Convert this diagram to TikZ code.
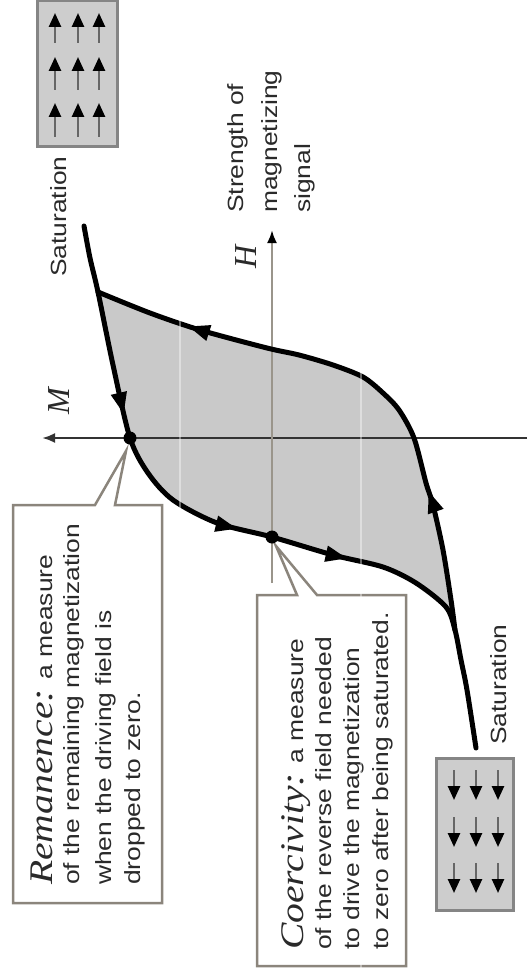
\documentclass[tikz,border=0pt]{standalone}
\usepackage{fontspec}
\setmainfont{Liberation Sans}
\newfontfamily\seriffam{Liberation Serif}
\usetikzlibrary{arrows.meta,decorations.markings}
\definecolor{loopgray}{HTML}{C9C9C9}
\definecolor{boxgray}{HTML}{CDCDCD}
\definecolor{boxedge}{HTML}{858585}
\definecolor{calledge}{HTML}{8B857C}
\definecolor{haxis}{HTML}{9A958B}
\definecolor{txtcol}{HTML}{2A2A2A}
\newcommand{\stre}[1]{\scalebox{1.2}[1]{#1}}
\newcommand{\bigit}[1]{{\seriffam\itshape\fontsize{33}{36}\selectfont #1}}
\begin{document}
\begin{tikzpicture}[x=1pt,y=-1pt,
  txt/.style={rotate=90, anchor=base west, inner sep=0pt, text=txtcol, font=\fontsize{22}{26}\selectfont},
  axlabel/.style={rotate=90, inner sep=0pt, text=txtcol, font=\seriffam\itshape\fontsize{32}{34}\selectfont},
  loopline/.style={line width=5pt, black, line join=round, line cap=round},
  callout/.style={fill=white, draw=calledge, line width=2.5pt, line join=miter},
  satbox/.style={fill=boxgray, draw=boxedge, line width=3pt},
  satarrow/.style={draw=black!60, line width=2.5pt, -{Triangle[length=14pt,width=12pt,fill=black,color=black]}},
  dot/.style={circle, fill=black, inner sep=0pt, minimum size=13pt}]
\useasboundingbox (0,0) rectangle (532,976);

% saturation boxes
\draw[satbox] (37,1) rectangle (117,147);
\foreach \cx in {55,78,99}{
  \foreach \yb/\yt in {43/13, 90/57, 137/103}{
    \draw[satarrow] (\cx,\yb) -- (\cx,\yt);
  }
}
\draw[satbox] (436,758) rectangle (513,910);
\foreach \cx in {454,476,498}{
  \foreach \yt/\yb in {770/800, 817/847, 863/893}{
    \draw[satarrow] (\cx,\yt) -- (\cx,\yb);
  }
}

% loop fill
\fill[loopgray] plot[smooth,tension=0.5] coordinates {(98,292) (113,365) (130,438) (148,473) (173,500) (217,523) (272,537) (333,555) (383,567) (416,583) (446,607) (455,630)}
  -- plot[smooth,tension=0.5] coordinates {(451,600) (443,550) (433,505) (426,483) (414,438) (399,410) (383,393) (363,377) (333,365) (299,355) (267,348) (200,330) (150,313) (98,292)} -- cycle;

% axes
\coordinate (Mend) at (527,438);
\coordinate (Mtip) at (42,438);
\coordinate (Hend) at (272,583);
\coordinate (Htip) at (272,230);
\draw[line width=2.5pt, black!80, -{Latex[length=13pt,width=10pt]}] (Mend) -- (Mtip);
\draw[line width=2.5pt, haxis, -{Latex[length=13pt,width=10pt,fill=black,color=black]}] (Hend) -- (Htip);
\node[axlabel] (Mlab) at (59,401) {M};
\node[axlabel] (Hlab) at (246,257) {H};

% loop branches
\draw[loopline, postaction={decorate}, decoration={markings,
   mark=at position 0.262 with {\arrow{Triangle[length=22pt,width=15pt]}},
   mark=at position 0.496 with {\arrow{Triangle[length=22pt,width=15pt]}},
   mark=at position 0.651 with {\arrow{Triangle[length=22pt,width=15pt]}}}]
  plot[smooth,tension=0.5] coordinates {(84,226) (90,258) (98,292) (113,365) (130,438) (148,473) (173,500) (217,523) (272,537) (333,555) (383,567) (416,583) (446,607) (455,630) (461,660) (467,690) (476,748)};
\draw[loopline, postaction={decorate}, decoration={markings,
   mark=at position 0.255 with {\arrow{Triangle[length=22pt,width=15pt]}},
   mark=at position 0.827 with {\arrow{Triangle[length=22pt,width=15pt]}}}]
  plot[smooth,tension=0.5] coordinates {(455,630) (451,600) (443,550) (433,505) (426,483) (414,438) (399,410) (383,393) (363,377) (333,365) (299,355) (267,348) (200,330) (150,313) (98,292)};

% callouts
\coordinate (rtip) at (126,451);
\draw[callout] (13,505) -- (95,505) -- (rtip) -- (115,505) -- (162,505) -- (162,903) -- (13,903) -- cycle;
\coordinate (ctip) at (276,546);
\draw[callout] (257,595) -- (297,595) -- (ctip) -- (317,595) -- (406,595) -- (406,966) -- (257,966) -- cycle;

% points
\node[dot] (rem) at (130,438) {};
\node[dot] (coer) at (272,537) {};

% texts
\node[txt] (r1) at (52,885) {\stre{\bigit{Remanence:} a measure}};
\node[txt] (r2) at (79,885) {\stre{of the remaining magnetization}};
\node[txt] (r3) at (111,885) {\stre{when the driving field is}};
\node[txt] (r4) at (140,885) {\stre{dropped to zero.}};

\node[txt] (c1) at (303,950) {\stre{\bigit{Coercivity:} a measure}};
\node[txt] (c2) at (331,950) {\stre{of the reverse field needed}};
\node[txt] (c3) at (359,950) {\stre{to drive the magnetization}};
\node[txt] (c4) at (388,950) {\stre{to zero after being saturated.}};

\node[txt] (s1) at (243,213) {\stre{Strength of}};
\node[txt] (s2) at (277,213) {\stre{magnetizing}};
\node[txt] (s3) at (310,213) {\stre{signal}};

\node[txt] (sat1) at (66,277) {\stre{Saturation}};
\node[txt] (sat2) at (506,745) {\stre{Saturation}};

% faint scan lines
\draw[white, opacity=0.4, line width=1.2pt] (180,0) -- (180,976);
\draw[white, opacity=0.4, line width=1.2pt] (361,0) -- (361,976);
\end{tikzpicture}
\end{document}
